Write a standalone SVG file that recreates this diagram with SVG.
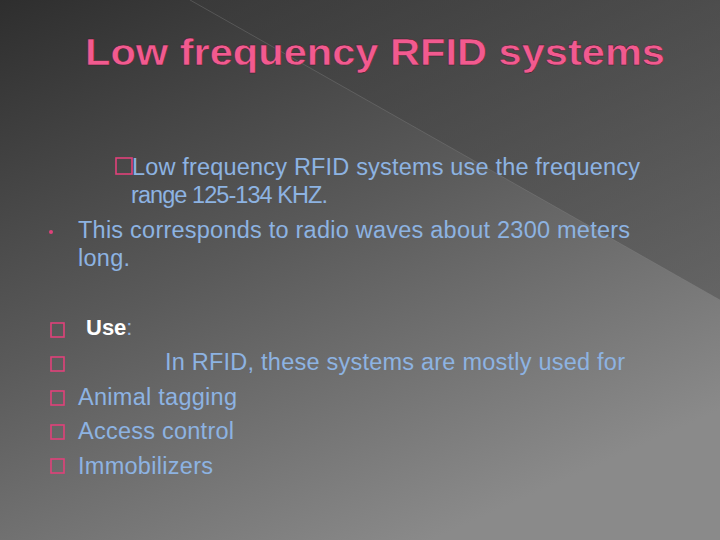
<svg xmlns="http://www.w3.org/2000/svg" width="720" height="540" viewBox="0 0 720 540">
<defs>
<linearGradient id="bg" x1="0" y1="0" x2="0.6" y2="1">
<stop offset="0" stop-color="#2e2e2e"/><stop offset="0.5" stop-color="#5a5a5a"/><stop offset="1" stop-color="#8a8a8a"/>
</linearGradient>
<linearGradient id="tri" x1="0" y1="0" x2="1" y2="1">
<stop offset="0" stop-color="#3a3a3a"/><stop offset="1" stop-color="#555"/>
</linearGradient>
</defs>
<style>
.t{font-family:"Liberation Sans",Arial,sans-serif;font-size:23.5px;fill:#8db3e2}
.b{fill:none;stroke:#e0417a;stroke-width:1.6}
</style>
<rect width="720" height="540" fill="url(#bg)"/>
<path d="M190,0 L720,0 L720,300 Z" fill="url(#tri)" opacity="0.6"/>
<line x1="190" y1="0" x2="720" y2="300" stroke="#888" stroke-width="0.6" opacity="0.6"/>
<g id="title">
<text x="85" y="65" textLength="580" lengthAdjust="spacingAndGlyphs" font-family="Liberation Sans,Arial,sans-serif" font-size="36" font-weight="bold" fill="#f25a8f" stroke="#3a1a28" stroke-width="0.4">Low frequency RFID systems</text>
</g>
<g id="body">
<rect class="b" x="116" y="158" width="16" height="16"/>
<text class="t" x="132" y="175" textLength="508">Low frequency RFID systems use the frequency</text>
<text class="t" x="131" y="203" textLength="197">range 125-134 KHZ.</text>
<circle cx="51" cy="232" r="2" fill="#e0417a"/>
<text class="t" x="78" y="238" textLength="552">This corresponds to radio waves about 2300 meters</text>
<text class="t" x="78" y="266" textLength="52">long.</text>
<rect class="b" x="51" y="323" width="13" height="14"/>
<text x="86" y="335" font-family="Liberation Sans,Arial,sans-serif" font-size="22" font-weight="bold" fill="#fff">Use<tspan fill="#8db3e2" font-weight="normal">:</tspan></text>
<rect class="b" x="51" y="357" width="13" height="14"/>
<text class="t" x="165" y="370" textLength="460">In RFID, these systems are mostly used for</text>
<rect class="b" x="51" y="391" width="13" height="14"/>
<text class="t" x="78" y="405" textLength="159">Animal tagging</text>
<rect class="b" x="51" y="425" width="13" height="14"/>
<text class="t" x="78" y="439" textLength="156">Access control</text>
<rect class="b" x="51" y="459" width="13" height="14"/>
<text class="t" x="78" y="474" textLength="135">Immobilizers</text>
</g>
</svg>
